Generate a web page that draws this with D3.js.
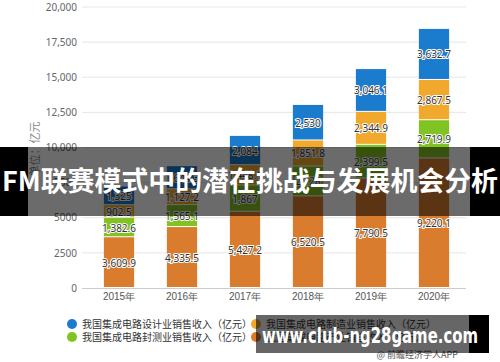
<!DOCTYPE html>
<html>
<head>
<meta charset="utf-8">
<script src="https://cdn.jsdelivr.net/npm/d3@7"></script>
<style>
  body { margin: 0; background: #fff; }
  svg { display: block; font-family: "Noto Sans CJK SC", "Noto Sans", sans-serif; }
</style>
</head>
<body>
<svg width="500" height="362"></svg>
<script>
const years = ['2015年', '2016年', '2017年', '2018年', '2019年', '2020年']
// stacked bottom -> top
const totalSales = [3609.9, 4335.5, 5427.2, 6520.5, 7790.5, 9220.1]
const packaging = [1382.6, 1565.1, 1867, 2128, 2399.5, 2719.9]
const manufacturing = [902.5, 1127.2, 1448.1, 1851.8, 2344.9, 2867.5]
const design = [1325, 1644.3, 2084, 2530, 3046.1, 3632.7]
const yTicks = [0, 2500, 5000, 7500, 10000, 12500, 15000, 17500, 20000]

const seriesNames = ['我国集成电路设计业销售收入（亿元）', '我国集成电路制造业销售收入（亿元）',
    '我国集成电路封测业销售收入（亿元）', '我国集成电路产业销售收入（亿元）']
const keys = ['totalSales', 'packaging', 'manufacturing', 'design']
const colors = { design: '#1b7bcd', manufacturing: '#f0a92d', packaging: '#80c322', totalSales: '#d97c2e' }
const legendKeys = ['design', 'manufacturing', 'packaging', 'totalSales']

const rows = years.map((y, i) => ({
    year: y,
    totalSales: totalSales[i],
    packaging: packaging[i],
    manufacturing: manufacturing[i],
    design: design[i]
}))

const svg = d3.select('svg')

const xScale = d3.scaleBand()
    .domain(years)
    .range([87.5, 465.5])
    .paddingInner(0.52)
    .paddingOuter(0.26)

const yScale = d3.scaleLinear()
    .domain([0, 20000])
    .range([288, 7])

// grid
svg.append('g')
    .selectAll('line')
    .data(yTicks.slice(1))
    .enter()
    .append('line')
    .attr('x1', 82)
    .attr('x2', 466)
    .attr('y1', d => yScale(d))
    .attr('y2', d => yScale(d))
    .attr('stroke', '#e6e6e6')

const fmtTick = d => d >= 10000 ? d3.format(',')(d) : String(d)
const yAxis = d3.axisLeft(yScale).tickValues(yTicks).tickFormat(fmtTick).tickSize(0).tickPadding(5)
const gy = svg.append('g')
    .attr('transform', 'translate(82,0)')
    .call(yAxis)
gy.select('.domain').remove()
gy.selectAll('text').attr('fill', '#666').style('font-size', '10px').style('font-family', 'Noto Sans, sans-serif')

svg.append('text')
    .attr('transform', 'translate(39,149) rotate(-90)')
    .attr('text-anchor', 'middle')
    .attr('fill', '#888')
    .style('font-size', '11px')
    .text('单位：亿元')

const stack = d3.stack().keys(keys)
const stacked = stack(rows)

const layers = svg.append('g')
    .selectAll('g')
    .data(stacked)
    .enter()
    .append('g')
    .attr('fill', d => colors[d.key])

layers.selectAll('rect')
    .data(d => d)
    .enter()
    .append('rect')
    .attr('x', d => xScale(d.data.year))
    .attr('width', xScale.bandwidth())
    .attr('y', d => yScale(d[1]))
    .attr('height', d => yScale(d[0]) - yScale(d[1]) - 1)

// value labels
const labels = svg.append('g')
stacked.forEach(layer => {
    layer.forEach(d => {
        labels.append('text')
            .attr('x', xScale(d.data.year) + xScale.bandwidth() / 2)
            .attr('y', (yScale(d[0]) + yScale(d[1])) / 2 + 4)
            .attr('text-anchor', 'middle')
            .attr('fill', '#333')
            .attr('stroke', '#fff')
            .attr('stroke-width', 2)
            .attr('paint-order', 'stroke')
            .style('font-size', '10px')
            .style('font-family', 'Noto Sans, sans-serif')
            .text(d3.format(',')(d.data[layer.key]))
    })
})

const xAxis = d3.axisBottom(xScale).tickSize(0).tickPadding(5)
const gx = svg.append('g')
    .attr('transform', 'translate(0,288)')
    .call(xAxis)
gx.select('.domain').attr('d', 'M82,0.5H466').attr('stroke', '#ccc')
gx.selectAll('text').attr('fill', '#555').style('font-size', '10px')

// legend
const legend = svg.append('g')
legendKeys.forEach((k, i) => {
    const lx = i % 2 === 0 ? 72 : 256
    const ly = i < 2 ? 324 : 337
    legend.append('circle').attr('cx', lx).attr('cy', ly).attr('r', 5).attr('fill', colors[k])
    legend.append('text').attr('x', lx + 10).attr('y', ly + 4)
        .attr('fill', '#333').style('font-size', '10px')
        .text(seriesNames[i])
})

svg.append('text')
    .attr('x', 458)
    .attr('y', 358)
    .attr('text-anchor', 'end')
    .attr('fill', '#555')
    .style('font-size', '9px')
    .text('@ 前瞻经济学人APP')

// overlay band with title
svg.append('rect').attr('x', 0).attr('y', 147).attr('width', 28).attr('height', 69).attr('fill', '#000')
svg.append('rect').attr('x', 28).attr('y', 147).attr('width', 442).attr('height', 69).attr('fill', 'rgba(0,0,0,0.58)')
svg.append('rect').attr('x', 470).attr('y', 147).attr('width', 30).attr('height', 69).attr('fill', '#000')
svg.append('text')
    .attr('x', 250)
    .attr('y', 191)
    .attr('text-anchor', 'middle')
    .attr('fill', '#fff')
    .attr('textLength', 496)
    .attr('lengthAdjust', 'spacingAndGlyphs')
    .style('font-size', '27px')
    .style('font-weight', 'bold')
    .text('FM联赛模式中的潜在挑战与发展机会分析')

// bottom banner
svg.append('rect').attr('x', 256).attr('y', 315).attr('width', 213).attr('height', 38).attr('fill', 'rgba(0,0,0,0.6)')
svg.append('rect').attr('x', 469).attr('y', 315).attr('width', 20).attr('height', 38).attr('fill', '#000')
svg.append('text')
    .attr('x', 262)
    .attr('y', 343)
    .attr('fill', '#fff')
    .attr('textLength', 216)
    .attr('lengthAdjust', 'spacingAndGlyphs')
    .style('font-size', '22px')
    .style('font-weight', 'bold')
    .style('font-family', 'DejaVu Sans, sans-serif')
    .text('www.club-ng28game.com')
</script>
</body>
</html>
